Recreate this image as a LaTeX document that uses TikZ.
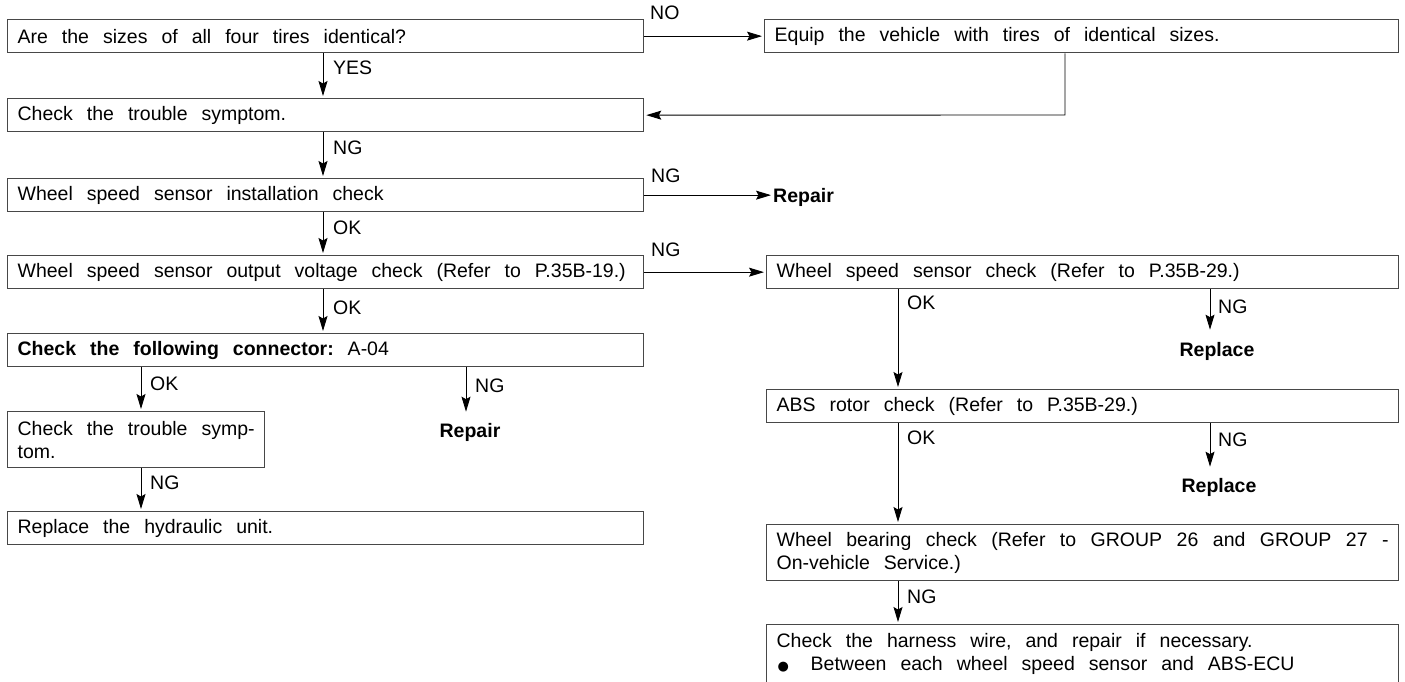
\documentclass[tikz,border=0pt]{standalone}
\usepackage{fontspec}
\setmainfont{Liberation Sans}
\newfontfamily\dejavu{DejaVu Sans}
\usetikzlibrary{arrows.meta}
\newcommand\fs{\fontsize{19.5pt}{23pt}\selectfont}
\newcommand\ws{\spaceskip=14pt plus 8pt minus 3pt\xspaceskip=14pt plus 8pt minus 3pt\relax}
\begin{document}
\begin{tikzpicture}[x=1pt,y=-1pt,
  box/.style={draw=black!72, line width=1.3pt, anchor=north west, inner xsep=10pt, inner ysep=0pt,
              align=left, font=\fs, minimum height=33pt},
  lbl/.style={anchor=west, font=\fs, inner sep=0pt},
  res/.style={anchor=base, font=\fs\bfseries, inner sep=0pt},
  arr/.style={-{Stealth[length=15pt,width=9pt,inset=2.5pt]}, line width=0.9pt, shorten >=2pt}]
\useasboundingbox (0,0) rectangle (1405,681);

% left column
\node[box, text width=616pt] (b1) at (7,19) {\ws Are the sizes of all four tires identical?};
\node[box, text width=614pt] (b2) at (764,19) {\ws Equip the vehicle with tires of identical sizes.};
\node[box, text width=616pt] (b3) at (7,98) {\ws Check the trouble symptom.};
\node[box, text width=616pt] (b4) at (7,178) {\ws Wheel speed sensor installation check};
\node[box, text width=616pt] (b5) at (7,255) {\ws Wheel speed sensor output voltage check (Refer to P.35B-19.)};
\node[box, text width=616pt] (b6) at (7,333) {\ws\textbf{Check the following connector:} A-04};
\node[box, text width=237pt, minimum height=56pt] (b7) at (7,411) {\ws Check the trouble symp-\\tom.};
\node[box, text width=616pt] (b8) at (7,511) {\ws Replace the hydraulic unit.};

% right column
\node[box, text width=612pt] (r1) at (766,255) {\ws Wheel speed sensor check (Refer to P.35B-29.)};
\node[box, text width=612pt] (r2) at (766,389) {\ws ABS rotor check (Refer to P.35B-29.)};
\node[box, text width=612pt, minimum height=56pt, align=justify] (r3) at (766,524)
  {\ws Wheel bearing check (Refer to GROUP 26 and GROUP 27 -\linebreak On-vehicle Service.)};
\node[box, text width=612pt, minimum height=0pt, inner ysep=9pt] (r4) at (766,624)
  {\parbox[c][62pt][t]{612pt}{\ws Check the harness wire, and repair if necessary.\\
   \makebox[34pt][l]{\hspace{1pt}{\dejavu\fontsize{13pt}{13pt}\selectfont ●}}Between each wheel speed sensor and ABS-ECU}};

% results
\node[res, anchor=base west] (rep1) at (773,202) {Repair};
\node[res] (rep2) at (470,437) {Repair};
\node[res] (repl1) at (1217,356) {Replace};
\node[res] (repl2) at (1219,492) {Replace};

% x positions of vertical connectors
\coordinate (xl) at (323,0);
\coordinate (xa) at (141,0);
\coordinate (xb) at (466,0);
\coordinate (xc) at (898,0);
\coordinate (xd) at (1210,0);
\coordinate (xr) at (1065,115);

% connectors
\draw[arr] (b1.east) -- (b2.west);
\node[lbl] (lno) at (650,13) {NO};
\draw[arr] (xr |- b2.south) -- (xr) -- (b3.east);

\draw[arr] (xl |- b1.south) -- (xl |- b3.north);
\node[lbl] (lyes) at (333,68) {YES};
\draw[arr] (xl |- b3.south) -- (xl |- b4.north);
\node[lbl] (lng1) at (333,148) {NG};
\draw[arr] (b4.east) -- (b4.east -| rep1.west);
\node[lbl] (lng2) at (651,176) {NG};
\draw[arr] (xl |- b4.south) -- (xl |- b5.north);
\node[lbl] (lok1) at (333,228) {OK};
\draw[arr] (b5.east) -- (r1.west);
\node[lbl] (lng3) at (651,250) {NG};
\draw[arr] (xl |- b5.south) -- (xl |- b6.north);
\node[lbl] (lok2) at (333,308) {OK};

\draw[arr] (xa |- b6.south) -- (xa |- b7.north);
\node[lbl] (lok3) at (150,384) {OK};
\draw[arr] (xb |- b6.south) -- ([yshift=9pt]xb |- rep2.north);
\node[lbl] (lng4) at (475,386) {NG};
\draw[arr] (xa |- b7.south) -- (xa |- b8.north);
\node[lbl] (lng5) at (150,483) {NG};

\draw[arr] (xc |- r1.south) -- (xc |- r2.north);
\node[lbl] (lok4) at (907,303) {OK};
\draw[arr] (xd |- r1.south) -- ([yshift=10pt]xd |- repl1.north);
\node[lbl] (lng6) at (1218,307) {NG};
\draw[arr] (xc |- r2.south) -- (xc |- r3.north);
\node[lbl] (lok5) at (907,438) {OK};
\draw[arr] (xd |- r2.south) -- ([yshift=9pt]xd |- repl2.north);
\node[lbl] (lng7) at (1218,440) {NG};
\draw[arr] (xc |- r3.south) -- (xc |- r4.north);
\node[lbl] (lng8) at (907,597) {NG};
\end{tikzpicture}
\end{document}
